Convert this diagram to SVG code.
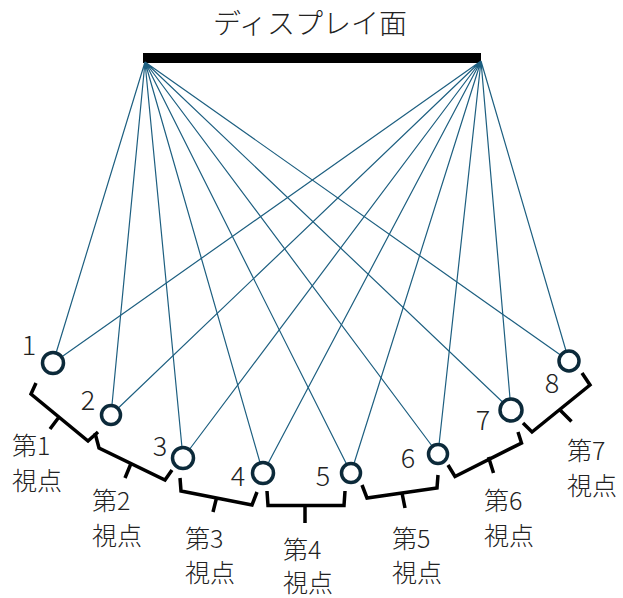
<svg xmlns="http://www.w3.org/2000/svg" width="623" height="598" viewBox="0 0 623 598">
<style>
text{font-family:"Noto Sans CJK JP","Noto Sans",sans-serif;fill:#222;font-weight:300}
.t{font-size:28px}
.n{font-size:27px;text-anchor:middle}
.l{font-size:25px}
.ray{stroke:#1d5f80;stroke-width:1.2;fill:none}
.eye{fill:#fff;stroke:#0c2a3a;stroke-width:3.5}
.br{fill:none;stroke:#000;stroke-width:3.5;stroke-linejoin:miter}
</style>
<rect width="623" height="598" fill="#fff"/>
<g id="display">
<text class="t" x="310" y="34" text-anchor="middle">ディスプレイ面</text>
<rect x="143" y="53" width="338" height="10" fill="#000"/>
</g>
<g id="connectors">
<path class="ray" d="M145,62L53,363M145,62L111,415M145,62L183,458M145,62L263,473M145,62L351,473M145,62L438,454M145,62L511,410M145,62L569,361"/>
<path class="ray" d="M481,61L53,363M481,61L111,415M481,61L183,458M481,61L263,473M481,61L351,473M481,61L438,454M481,61L511,410M481,61L569,361"/>
</g>
<g id="viewpoint1"><circle class="eye" cx="53" cy="363" r="10.5"/><text class="n" x="29" y="355">1</text></g>
<g id="viewpoint2"><circle class="eye" cx="111" cy="415" r="9.5"/><text class="n" x="88" y="410">2</text></g>
<g id="viewpoint3"><circle class="eye" cx="183" cy="458" r="10.5"/><text class="n" x="160" y="456">3</text></g>
<g id="viewpoint4"><circle class="eye" cx="263" cy="473" r="10.5"/><text class="n" x="238" y="486">4</text></g>
<g id="viewpoint5"><circle class="eye" cx="351" cy="473" r="9.5"/><text class="n" x="323" y="486">5</text></g>
<g id="viewpoint6"><circle class="eye" cx="438" cy="454" r="9.5"/><text class="n" x="408" y="468">6</text></g>
<g id="viewpoint7"><circle class="eye" cx="511" cy="410" r="11"/><text class="n" x="483" y="430">7</text></g>
<g id="viewpoint8"><circle class="eye" cx="569" cy="361" r="10"/><text class="n" x="552" y="393">8</text></g>
<g id="zone1"><path class="br" d="M36,383L31,394L88,441L98,432M59,417L50,429"/><text class="l" x="12" y="455">第1</text><text class="l" x="12" y="490">視点</text></g>
<g id="zone2"><path class="br" d="M95,433L99,448L165,480L172,470M131,463.5L125,478"/><text class="l" x="92" y="510">第2</text><text class="l" x="92" y="545">視点</text></g>
<g id="zone3"><path class="br" d="M180,478L181,491L252,505L257,492M216.5,498L213,512"/><text class="l" x="185" y="548">第3</text><text class="l" x="185" y="582">視点</text></g>
<g id="zone4"><path class="br" d="M267,491L268,505.5L344,505.5L345,491M305,505.5L305,523"/><text class="l" x="283" y="559">第4</text><text class="l" x="283" y="592">視点</text></g>
<g id="zone5"><path class="br" d="M362,485L367,498L437,488L438,475M402,493L405,508"/><text class="l" x="392" y="548">第5</text><text class="l" x="392" y="582">視点</text></g>
<g id="zone6"><path class="br" d="M448,465L455,476.5L521.5,443L518,432M488.5,457L493.5,473"/><text class="l" x="484" y="510">第6</text><text class="l" x="484" y="545">視点</text></g>
<g id="zone7"><path class="br" d="M582,373L590,385L532,432L523,423M560,410L571.5,421.5"/><text class="l" x="567" y="460">第7</text><text class="l" x="567" y="495">視点</text></g>
</svg>
